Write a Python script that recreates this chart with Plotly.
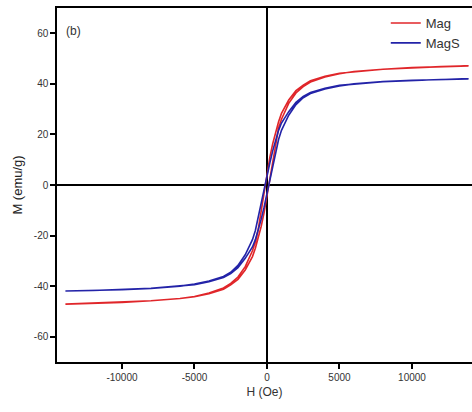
import plotly.graph_objects as go

H = [-13900, -12000, -10000, -8000, -6000, -5000, -4000, -3000, -2500, -2000, -1500,
     -1000, -800, -600, -400, -200, 0, 200, 400, 600, 800, 1000, 1500, 2000, 2500,
     3000, 4000, 5000, 6000, 8000, 10000, 12000, 13900]

# Mag (red): descending branch (field from + to -, listed along H ascending) and ascending branch
mag_desc = [-47.1, -46.8, -46.4, -45.8, -44.9, -44.1, -42.7, -40.7, -38.9, -36.4, -32.3,
            -26.0, -22.5, -17.5, -9.6, -2.8, 4.2, 11.0, 16.4, 21.2, 25.0, 28.3, 33.6, 37.3, 39.5,
            41.2, 43.0, 44.2, 44.9, 45.8, 46.4, 46.8, 47.1]
mag_asc = [-47.1, -46.8, -46.4, -45.8, -44.9, -44.2, -43.0, -41.2, -39.5, -37.3, -33.6,
           -28.3, -25.0, -21.2, -16.4, -11.0, -4.2, 2.8, 9.6, 17.5, 22.5, 26.0, 32.3, 36.4, 38.9,
           40.7, 42.7, 44.0, 44.9, 45.8, 46.4, 46.8, 47.1]

# MagS (blue)
mags_desc = [-41.9, -41.7, -41.4, -40.9, -40.0, -39.2, -38.0, -36.2, -34.5, -31.8, -27.6,
             -21.6, -18.0, -13.8, -7.7, -2.2, 3.3, 8.8, 13.6, 17.8, 21.6, 24.5, 29.0, 32.7, 35.0,
             36.6, 38.3, 39.4, 40.0, 40.9, 41.4, 41.7, 41.9]
mags_asc = [-41.9, -41.7, -41.4, -40.9, -40.0, -39.4, -38.3, -36.6, -35.0, -32.7, -29.0,
            -24.5, -21.6, -17.8, -13.6, -8.8, -3.3, 2.2, 7.7, 13.8, 18.0, 21.6, 27.6, 31.8, 34.5,
            36.2, 38.0, 39.2, 40.0, 40.9, 41.4, 41.7, 41.9]

x_ticks = [-10000, -5000, 0, 5000, 10000]
y_ticks = [-60, -40, -20, 0, 20, 40, 60]

def loop(desc, asc):
    xs = list(reversed(H)) + H
    ys = list(reversed(desc)) + asc
    return xs, ys

fig = go.Figure()
x1, y1 = loop(mag_desc, mag_asc)
fig.add_trace(go.Scatter(x=x1, y=y1, mode="lines", name="Mag",
                         line=dict(color="#e0262a", width=1.6)))
x2, y2 = loop(mags_desc, mags_asc)
fig.add_trace(go.Scatter(x=x2, y=y2, mode="lines", name="MagS",
                         line=dict(color="#2323a8", width=1.6)))

fig.add_annotation(x=0.018, y=0.935, xref="paper", yref="paper", text="(b)",
                   showarrow=False, xanchor="left", yanchor="middle",
                   font=dict(size=12, color="#333"))

fig.update_layout(
    width=472, height=412,
    margin=dict(l=57, r=0, t=8, b=50),
    paper_bgcolor="white", plot_bgcolor="white",
    font=dict(family="Liberation Sans, Arial, sans-serif", color="#333"),
    showlegend=True,
    legend=dict(x=0.985, y=1.0, xanchor="right", yanchor="top",
                bgcolor="rgba(0,0,0,0)", font=dict(size=13, color="#333"),
                tracegroupgap=0, itemwidth=30),
    xaxis=dict(range=[-14480, 14140], tickvals=x_ticks, ticktext=[str(v) for v in x_ticks],
               showgrid=False, zeroline=True, zerolinecolor="black", zerolinewidth=1.5,
               showline=True, linecolor="black", linewidth=1.5, mirror=True,
               ticks="outside", ticklen=5, tickwidth=1.5, tickcolor="black",
               tickfont=dict(size=10, color="#333"),
               title=dict(text="H (Oe)", font=dict(size=12, color="#333"), standoff=6)),
    yaxis=dict(range=[-70, 70], tickvals=y_ticks, ticktext=[str(v) for v in y_ticks],
               showgrid=False, zeroline=True, zerolinecolor="black", zerolinewidth=1.5,
               showline=True, linecolor="black", linewidth=1.5,
               ticks="outside", ticklen=5, tickwidth=1.5, tickcolor="black",
               tickfont=dict(size=10, color="#333"),
               title=dict(text="M (emu/g)", font=dict(size=13, color="#222"), standoff=8)),
)

fig.write_html("out.html", config={"displayModeBar": False},
               post_script="document.body.style.margin='0';document.body.style.overflow='hidden';")
